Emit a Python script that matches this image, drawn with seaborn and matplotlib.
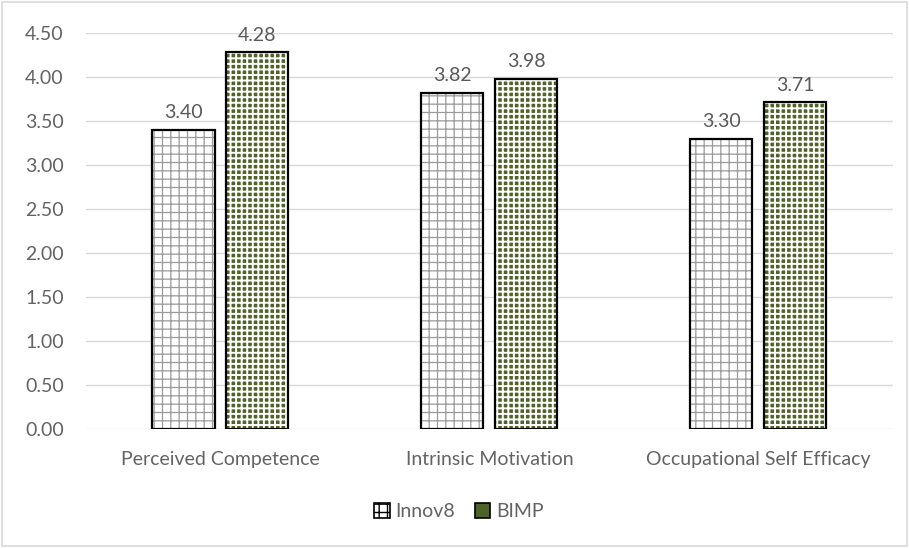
import matplotlib
matplotlib.use("Agg")
import matplotlib.pyplot as plt
import matplotlib.patches as mpatches
import numpy as np
import pandas as pd
import seaborn as sns

# data
categories = ["Perceived Competence", "Intrinsic Motivation", "Occupational Self Efficacy"]
innov8 = [3.40, 3.82, 3.30]
bimp = [4.28, 3.98, 3.71]
groups = ["Innov8", "BIMP"]
yticks = [0.0, 0.5, 1.0, 1.5, 2.0, 2.5, 3.0, 3.5, 4.0, 4.5]

df = pd.DataFrame({
    "category": categories * 2,
    "group": ["Innov8"] * 3 + ["BIMP"] * 3,
    "value": innov8 + bimp,
})

sns.set_style("white")
plt.rcParams["font.family"] = ["Lato", "DejaVu Sans"]
TXT = "#636363"
GRID = "#D9D9D9"
GREEN = "#4F6228"

fig = plt.figure(figsize=(9.09, 5.48), dpi=100)
ax = fig.add_axes([0.0946, 0.217, 0.8874, 0.723])

sns.barplot(data=df, x="category", y="value", hue="group",
            order=categories, hue_order=groups,
            palette={"Innov8": "white", "BIMP": GREEN},
            width=0.55, gap=0.16, legend=False, ax=ax, zorder=2)

# hatching: thin grey grid for Innov8, fine white grid on green for BIMP
for patch, grp in zip(ax.patches, [g for g in groups for _ in categories]):
    if grp == "Innov8":
        patch.set_facecolor("white")
        patch.set_edgecolor("#9A9A9A")
        patch.set_hatch("++")
        if hasattr(patch, "set_hatch_linewidth"):
            patch.set_hatch_linewidth(0.9)
    else:
        patch.set_facecolor(GREEN)
        patch.set_edgecolor("white")
        patch.set_hatch("+++")
        if hasattr(patch, "set_hatch_linewidth"):
            patch.set_hatch_linewidth(1.4)
    patch.set_linewidth(0)
    # black outline over the hatched bar
    x0, y0 = patch.get_x(), patch.get_y()
    ax.add_patch(mpatches.Rectangle((x0, y0), patch.get_width(), patch.get_height(),
                                    fill=False, edgecolor="black", linewidth=1.6, zorder=3))
    ax.annotate(f"{patch.get_height():.2f}",
                (x0 + patch.get_width() / 2, y0 + patch.get_height()),
                xytext=(0, 6), textcoords="offset points",
                ha="center", va="bottom", fontsize=14, color="#595959")

ax.set_ylim(0, 4.5)
ax.set_yticks(yticks)
ax.set_yticklabels([f"{t:.2f}" for t in yticks])
ax.yaxis.grid(True, color=GRID, linewidth=1, zorder=0)
ax.set_axisbelow(True)
for s in ax.spines.values():
    s.set_visible(False)
ax.tick_params(axis="both", length=0, labelsize=14, colors=TXT)
ax.tick_params(axis="x", pad=16)
ax.tick_params(axis="y", pad=16)
ax.set_xlabel("")
ax.set_ylabel("")

# legend
h1 = mpatches.Patch(facecolor="white", edgecolor="black", hatch="++", linewidth=1.2)
h2 = mpatches.Patch(facecolor=GREEN, edgecolor="black", hatch="", linewidth=1.2)
leg = fig.legend([h1, h2], groups, loc="center", bbox_to_anchor=(0.505, 0.066),
                 ncol=2, frameon=False, fontsize=14, handlelength=0.8, handleheight=0.8,
                 handletextpad=0.3, columnspacing=1.0)
for t in leg.get_texts():
    t.set_color(TXT)

# outer chart border
fig.patches.append(mpatches.Rectangle((0.002, 0.003), 0.996, 0.994, transform=fig.transFigure,
                                      fill=False, edgecolor=GRID, linewidth=1.2))

fig.savefig("out.png", dpi=100, facecolor="white")
